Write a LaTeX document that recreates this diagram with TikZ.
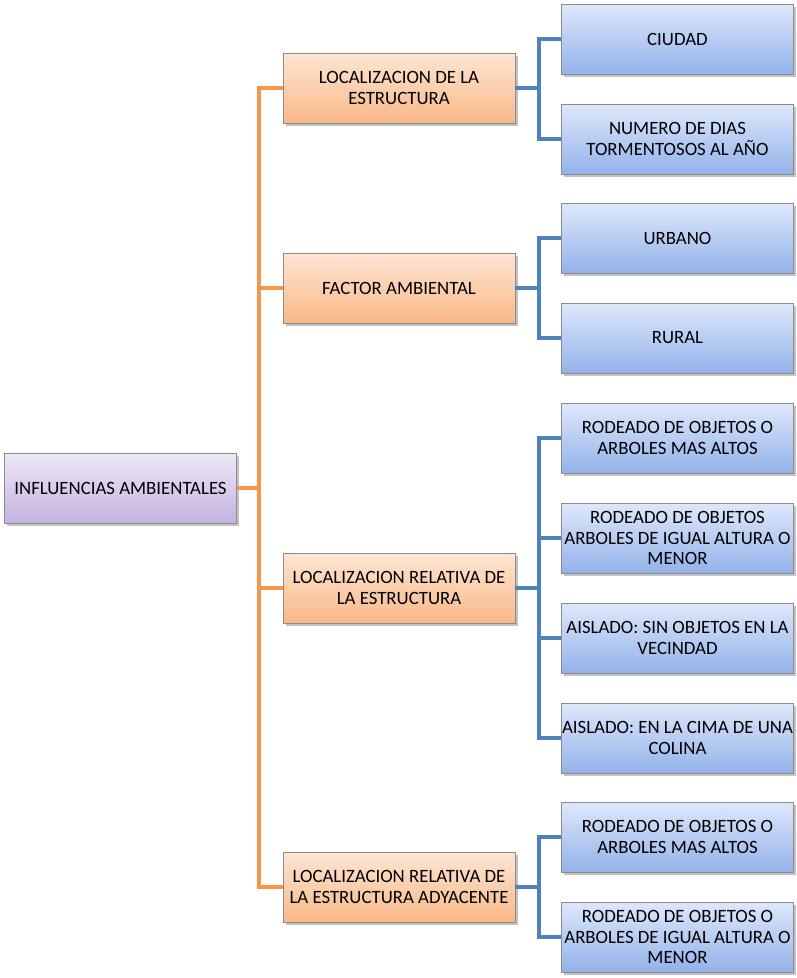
\documentclass[tikz,border=0pt]{standalone}
\usepackage{fontspec}
\setmainfont{Carlito}
\usetikzlibrary{shadows}
\definecolor{edgeorange}{HTML}{F79646}
\definecolor{edgeblue}{HTML}{4F81BD}
\definecolor{boxline}{HTML}{8C8C8C}
\definecolor{RootTop}{HTML}{EEE8F7}
\definecolor{RootBot}{HTML}{C4B2E0}
\definecolor{MidTop}{HTML}{FDE6D4}
\definecolor{MidBot}{HTML}{F9B887}
\definecolor{LeafTop}{HTML}{DEE8FB}
\definecolor{LeafBot}{HTML}{93B2EA}
\tikzset{
  box/.style={draw=boxline, line width=0.8pt, minimum width=232pt, minimum height=70pt,
    inner sep=0pt, align=center, font=\fontsize{18.8}{20.5}\selectfont,
    drop shadow={shadow xshift=2.5pt, shadow yshift=-2.5pt, opacity=0.4, fill=black!60}},
  rootbox/.style={box, top color=RootTop, bottom color=RootBot},
  midbox/.style={box, top color=MidTop, bottom color=MidBot},
  leafbox/.style={box, top color=LeafTop, bottom color=LeafBot},
  orangelink/.style={draw=edgeorange, line width=4pt},
  bluelink/.style={draw=edgeblue, line width=4pt},
}
\begin{document}
\begin{tikzpicture}[x=1pt, y=-1pt]
\useasboundingbox (0,0) rectangle (796,978);

% root
\node[rootbox] (root) at (120.5,488) {INFLUENCIAS AMBIENTALES};

% second level
\node[midbox] (m1) at (399,88) {LOCALIZACION DE LA\\ESTRUCTURA};
\node[midbox] (m2) at (399,288) {FACTOR AMBIENTAL};
\node[midbox] (m3) at (399,588) {LOCALIZACION RELATIVA DE\\LA ESTRUCTURA};
\node[midbox] (m4) at (399,887) {LOCALIZACION RELATIVA DE\\LA ESTRUCTURA ADYACENTE};

% third level
\node[leafbox] (l1) at (677.5,39) {CIUDAD};
\node[leafbox] (l2) at (677.5,139) {NUMERO DE DIAS\\TORMENTOSOS AL AÑO};
\node[leafbox] (l3) at (677.5,238) {URBANO};
\node[leafbox] (l4) at (677.5,338) {RURAL};
\node[leafbox] (l5) at (677.5,438) {RODEADO DE OBJETOS O\\ARBOLES MAS ALTOS};
\node[leafbox] (l6) at (677.5,538) {RODEADO DE OBJETOS\\ARBOLES DE IGUAL ALTURA O\\MENOR};
\node[leafbox] (l7) at (677.5,638) {AISLADO: SIN OBJETOS EN LA\\VECINDAD};
\node[leafbox] (l8) at (677.5,738) {AISLADO: EN LA CIMA DE UNA\\COLINA};
\node[leafbox] (l9) at (677.5,837) {RODEADO DE OBJETOS O\\ARBOLES MAS ALTOS};
\node[leafbox] (l10) at (677.5,937) {RODEADO DE OBJETOS O\\ARBOLES DE IGUAL ALTURA O\\MENOR};

% orange tree from the root
\foreach \m in {m1,m2,m3,m4}
  \draw[orangelink] (root.east) -- ++(22,0) |- (\m.west);
% blue trees from the second level
\foreach \p/\c in {m1/l1,m1/l2,m2/l3,m2/l4,m3/l5,m3/l6,m3/l7,m3/l8,m4/l9,m4/l10}
  \draw[bluelink] (\p.east) -- ++(24,0) |- (\c.west);
\end{tikzpicture}
\end{document}
